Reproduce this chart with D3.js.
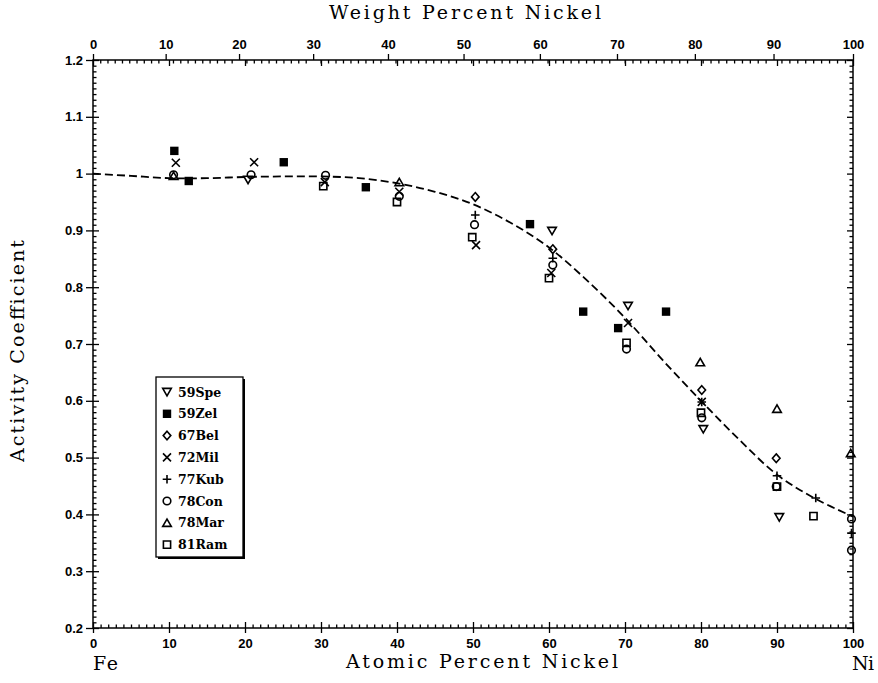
<!DOCTYPE html>
<html><head><meta charset="utf-8">
<script src="https://cdn.jsdelivr.net/npm/d3@7"></script>
<style>
html,body{margin:0;padding:0;background:#fff;}
svg{display:block;}
</style></head>
<body>
<svg id="chart" width="878" height="683"></svg>
<script>
// ---------- DATA ----------
const seriesNames = ["59Spe","59Zel","67Bel","72Mil","77Kub","78Con","78Mar","81Ram"];

const spe_x = [20.4, 60.4, 70.4, 80.3, 90.3];
const spe_y = [0.989, 0.899, 0.767, 0.550, 0.395];

const zel_x = [10.7, 12.6, 25.1, 35.9, 57.5, 64.5, 69.1, 75.4];
const zel_y = [1.040, 0.987, 1.020, 0.976, 0.911, 0.757, 0.728, 0.757];

const bel_x = [50.3, 60.5, 80.1, 89.9];
const bel_y = [0.959, 0.867, 0.619, 0.499];

const mil_x = [10.9, 21.2, 30.5, 40.3, 50.4, 60.3, 70.4, 80.1];
const mil_y = [1.019, 1.020, 0.985, 0.968, 0.874, 0.825, 0.737, 0.598];

const kub_x = [50.3, 60.5, 80.1, 90.0, 95.1, 99.8];
const kub_y = [0.927, 0.851, 0.598, 0.468, 0.429, 0.367];

const con_x = [10.6, 20.8, 30.6, 40.3, 50.2, 60.5, 70.2, 80.1, 89.9, 99.8, 99.8];
const con_y = [0.998, 0.998, 0.997, 0.960, 0.910, 0.839, 0.691, 0.570, 0.449, 0.392, 0.337];

const mar_x = [10.6, 40.3, 79.9, 90.0, 99.7];
const mar_y = [0.996, 0.985, 0.668, 0.586, 0.508];

const ram_x = [30.3, 40.0, 49.9, 60.0, 70.2, 80.0, 90.0, 94.8];
const ram_y = [0.978, 0.950, 0.888, 0.816, 0.702, 0.579, 0.449, 0.397];

// dashed fitted curve
const curve_x = [0, 5, 10, 15, 20, 25, 30, 35, 40, 45, 50, 55, 60, 65, 70, 75, 80, 85, 90, 95, 100];
const curve_y = [1.000, 0.996, 0.992, 0.992, 0.994, 0.995, 0.995, 0.992, 0.983, 0.968, 0.946, 0.913, 0.870, 0.812, 0.746, 0.671, 0.600, 0.532, 0.470, 0.428, 0.396];

// tick labels
const atomicTicks = [0,10,20,30,40,50,60,70,80,90,100];
const weightTicks = [0,10,20,30,40,50,60,70,80,90,100];
const yTicks = [0.2,0.3,0.4,0.5,0.6,0.7,0.8,0.9,1.0,1.1,1.2];
const yTickLabels = ["0.2","0.3","0.4","0.5","0.6","0.7","0.8","0.9","1","1.1","1.2"];

// ---------- CHART ----------
const svg = d3.select("#chart");
const L = 93, R = 853, T = 60, B = 628;
const x = d3.scaleLinear().domain([0,100]).range([L,R]);
const y = d3.scaleLinear().domain([0.2,1.2]).range([B,T]);

// weight % -> atomic %
const mFe = 55.845, mNi = 58.693;
function w2a(w){ if(w<=0) return 0; if(w>=100) return 100; const n=w/mNi, f=(100-w)/mFe; return 100*n/(n+f); }

const tickFont = "'Liberation Sans', Arial, sans-serif";
const titleFont = "'DejaVu Serif', 'Liberation Serif', serif";

function styleAxis(g){
  g.select(".domain").remove();
  g.selectAll("line").attr("stroke","#000").attr("stroke-width",1.3);
  g.selectAll("text").attr("font-family",tickFont).attr("font-size",13).attr("font-weight","bold").attr("fill","#000");
}

const minorX = d3.range(0,101,1).filter(d=>d%10!==0);
const minorY = d3.range(20,121,1).filter(d=>d%10!==0).map(d=>d/100);

// bottom axis: major outward + labels
svg.append("g").attr("transform",`translate(0,${B})`)
  .call(d3.axisBottom(x).tickValues(atomicTicks).tickSize(5).tickPadding(6).tickFormat(d=>d))
  .call(styleAxis);
svg.append("g").attr("transform",`translate(0,${B})`)
  .call(d3.axisTop(x).tickValues(atomicTicks).tickSize(6).tickFormat(""))
  .call(styleAxis);
svg.append("g").attr("transform",`translate(0,${B})`)
  .call(d3.axisTop(x).tickValues(minorX).tickSize(3.5).tickFormat(""))
  .call(styleAxis);

// top axis: weight percent labels outward
const wPos = weightTicks.map(w2a);
svg.append("g").attr("transform",`translate(0,${T})`)
  .call(d3.axisTop(x).tickValues(wPos).tickSize(6).tickPadding(5).tickFormat((d,i)=>weightTicks[i]))
  .call(styleAxis);
const minorW = d3.range(0,101,1).filter(d=>d%10!==0).map(w2a);
svg.append("g").attr("transform",`translate(0,${T})`)
  .call(d3.axisBottom(x).tickValues(minorW).tickSize(3.5).tickFormat(""))
  .call(styleAxis);
svg.append("g").attr("transform",`translate(0,${T})`)
  .call(d3.axisBottom(x).tickValues(atomicTicks).tickSize(6).tickFormat(""))
  .call(styleAxis);

// left axis
svg.append("g").attr("transform",`translate(${L},0)`)
  .call(d3.axisLeft(y).tickValues(yTicks).tickSize(7).tickPadding(3).tickFormat((d,i)=>yTickLabels[i]))
  .call(styleAxis);
svg.append("g").attr("transform",`translate(${L},0)`)
  .call(d3.axisRight(y).tickValues(yTicks).tickSize(6).tickFormat(""))
  .call(styleAxis);
svg.append("g").attr("transform",`translate(${L},0)`)
  .call(d3.axisRight(y).tickValues(minorY).tickSize(3.5).tickFormat(""))
  .call(styleAxis);
// right axis inward
svg.append("g").attr("transform",`translate(${R},0)`)
  .call(d3.axisLeft(y).tickValues(yTicks).tickSize(6).tickFormat(""))
  .call(styleAxis);
svg.append("g").attr("transform",`translate(${R},0)`)
  .call(d3.axisLeft(y).tickValues(minorY).tickSize(3.5).tickFormat(""))
  .call(styleAxis);

// frame
svg.append("rect").attr("x",L).attr("y",T).attr("width",R-L).attr("height",B-T)
  .attr("fill","none").attr("stroke","#000").attr("stroke-width",1.5);

// dashed curve
const curvePts = curve_x.map((d,i)=>[d,curve_y[i]]);
svg.append("path").datum(curvePts)
  .attr("d", d3.line().x(d=>x(d[0])).y(d=>y(d[1])).curve(d3.curveCatmullRom))
  .attr("fill","none").attr("stroke","#000").attr("stroke-width",1.8)
  .attr("stroke-dasharray","8,4");

// markers
function markerPath(type){
  const p = d3.path();
  switch(type){
    case "down": p.moveTo(-4.3,-3.6); p.lineTo(4.3,-3.6); p.lineTo(0,3.8); p.closePath(); break;
    case "up": p.moveTo(-4.3,3.6); p.lineTo(4.3,3.6); p.lineTo(0,-3.8); p.closePath(); break;
    case "fsq": p.rect(-4.2,-4.2,8.4,8.4); break;
    case "sq": p.rect(-3.6,-3.6,7.2,7.2); break;
    case "dia": p.moveTo(0,-4.3); p.lineTo(3.8,0); p.lineTo(0,4.3); p.lineTo(-3.8,0); p.closePath(); break;
    case "x": p.moveTo(-4,-4); p.lineTo(4,4); p.moveTo(-4,4); p.lineTo(4,-4); break;
    case "plus": p.moveTo(-4.3,0); p.lineTo(4.3,0); p.moveTo(0,-4.3); p.lineTo(0,4.3); break;
    case "circ": p.arc(0,0,3.8,0,2*Math.PI); break;
  }
  return p.toString();
}

const series = [
  {name:seriesNames[0], type:"down", xs:spe_x, ys:spe_y},
  {name:seriesNames[1], type:"fsq", xs:zel_x, ys:zel_y},
  {name:seriesNames[2], type:"dia", xs:bel_x, ys:bel_y},
  {name:seriesNames[3], type:"x", xs:mil_x, ys:mil_y},
  {name:seriesNames[4], type:"plus", xs:kub_x, ys:kub_y},
  {name:seriesNames[5], type:"circ", xs:con_x, ys:con_y},
  {name:seriesNames[6], type:"up", xs:mar_x, ys:mar_y},
  {name:seriesNames[7], type:"sq", xs:ram_x, ys:ram_y}
];

function styleMarker(sel, type){
  if(type==="fsq") sel.attr("fill","#000").attr("stroke","none");
  else sel.attr("fill","none").attr("stroke","#000").attr("stroke-width",1.6);
}

series.forEach(s=>{
  const pts = s.xs.map((d,i)=>[d,s.ys[i]]);
  svg.append("g").selectAll("path").data(pts).join("path")
    .attr("d", markerPath(s.type))
    .attr("transform", d=>`translate(${x(d[0])},${y(d[1])})`)
    .call(styleMarker, s.type);
});

// legend
const lg = svg.append("g");
const lgX = 156, lgY = 377, lgW = 87, lgH = 180, rowH = 21.8;
lg.append("rect").attr("x",lgX+2).attr("y",lgY+2).attr("width",lgW).attr("height",lgH).attr("fill","#000");
lg.append("rect").attr("x",lgX).attr("y",lgY).attr("width",lgW).attr("height",lgH)
  .attr("fill","#fff").attr("stroke","#000").attr("stroke-width",1.3);
series.forEach((s,i)=>{
  const cy = lgY + 15 + i*rowH;
  lg.append("path").attr("d",markerPath(s.type)).attr("transform",`translate(${lgX+11},${cy})`).call(styleMarker,s.type);
  lg.append("text").attr("x",lgX+22).attr("y",cy+4.5).text(s.name)
    .attr("font-family","'DejaVu Serif', serif").attr("font-weight","bold").attr("font-size",12.5).attr("fill","#000");
});

// titles
svg.append("text").attr("x",465).attr("y",19).attr("text-anchor","middle")
  .attr("font-family",titleFont).attr("font-size",19).attr("textLength",272).attr("lengthAdjust","spacing")
  .text("Weight Percent Nickel");
svg.append("text").attr("x",482).attr("y",668).attr("text-anchor","middle")
  .attr("font-family",titleFont).attr("font-size",19).attr("textLength",272).attr("lengthAdjust","spacing")
  .text("Atomic Percent Nickel");
svg.append("text").attr("transform","translate(24,351) rotate(-90)").attr("text-anchor","middle")
  .attr("font-family",titleFont).attr("font-size",19).attr("textLength",222).attr("lengthAdjust","spacing")
  .text("Activity Coefficient");
svg.append("text").attr("x",93).attr("y",670)
  .attr("font-family",titleFont).attr("font-size",19).attr("textLength",25).attr("lengthAdjust","spacing").text("Fe");
svg.append("text").attr("x",852).attr("y",670)
  .attr("font-family",titleFont).attr("font-size",19).attr("textLength",22).attr("lengthAdjust","spacing").text("Ni");
</script>
</body></html>
